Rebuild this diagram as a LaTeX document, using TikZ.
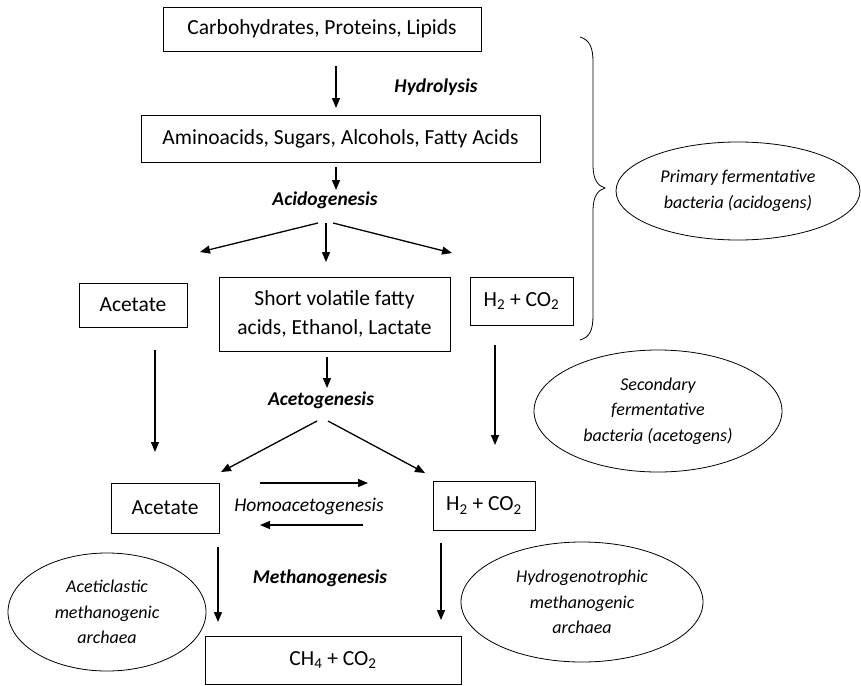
\documentclass[tikz,border=0pt]{standalone}
\usepackage{fontspec}
\setmainfont{Carlito}
\usetikzlibrary{arrows.meta,shapes.geometric}
\begin{document}
\begin{tikzpicture}[x=1pt,y=-1pt,
  box/.style={draw, line width=0.9pt, inner sep=0pt, font=\fontsize{21.5}{29}\selectfont, align=center},
  lab/.style={inner sep=0pt, font=\fontsize{19.5}{22}\selectfont\bfseries\itshape},
  ell/.style={draw, ellipse, line width=0.8pt, inner sep=0pt, font=\fontsize{18}{25.5}\selectfont\itshape, align=center},
  arr/.style={-{Triangle[length=10pt,width=8pt]}, line width=1.3pt}]
\useasboundingbox (0,0) rectangle (861,685);
% boxes
\node[box, minimum width=318pt, minimum height=44pt] (b1) at (322,29) {Carbohydrates, Proteins, Lipids};
\node[box, minimum width=399pt, minimum height=47pt] (b2) at (340.5,138.5) {Aminoacids, Sugars, Alcohols, Fatty Acids};
\node[box, minimum width=108pt, minimum height=44pt] (ac1) at (133,305) {Acetate};
\node[box, minimum width=231pt, minimum height=74pt] (svfa) at (334.5,314) {Short volatile fatty\\acids, Ethanol, Lactate};
\node[box, minimum width=103pt, minimum height=48pt] (h2a) at (521.5,301) {H\textsubscript{2} + CO\textsubscript{2}};
\node[box, minimum width=108pt, minimum height=50pt] (ac2) at (165,508) {Acetate};
\node[box, minimum width=102pt, minimum height=49pt] (h2b) at (484,505.5) {H\textsubscript{2} + CO\textsubscript{2}};
\node[box, minimum width=256pt, minimum height=48pt] (ch4) at (333,660) {CH\textsubscript{4} + CO\textsubscript{2}};
% ellipses
\node[ell, minimum width=244pt, minimum height=98pt] (prim) at (738,191) {Primary fermentative\\bacteria (acidogens)};
\node[ell, minimum width=248pt, minimum height=122pt] (sec) at (658,411) {Secondary\\fermentative\\bacteria (acetogens)};
\node[ell, minimum width=198pt, minimum height=118pt] (aceti) at (107,612) {Aceticlastic\\methanogenic\\archaea};
\node[ell, minimum width=242pt, minimum height=120pt] (hydro) at (582,602) {Hydrogenotrophic\\methanogenic\\archaea};
% labels
\node[lab] (hyd) at (436,87) {Hydrolysis};
\node[lab] (acid) at (325,200) {Acidogenesis};
\node[lab] (aceto) at (321,400) {Acetogenesis};
\node[inner sep=0pt, font=\fontsize{19.5}{22}\selectfont\itshape] (homo) at (309,506) {Homoacetogenesis};
\node[lab] (meth) at (320,578) {Methanogenesis};
% arrow end points
\coordinate (a1s) at (336,66);   \coordinate (a1e) at (336,108);
\coordinate (a2s) at (336,167);  \coordinate (a2e) at (336,190);
\coordinate (fl) at (318,223);   \coordinate (flE) at (200,252);
\coordinate (fm) at (326,223);   \coordinate (fmE) at (326,262);
\coordinate (fr) at (333,223);   \coordinate (frE) at (452,253);
\coordinate (d1s) at (155,350);  \coordinate (d1e) at (155,452);
\coordinate (d2s) at (327,357);  \coordinate (d2e) at (327,388);
\coordinate (gl) at (317,421);   \coordinate (glE) at (221,472);
\coordinate (gr) at (328,421);   \coordinate (grE) at (425,473);
\coordinate (d3s) at (495,345);  \coordinate (d3e) at (495,445);
\coordinate (hr1) at (260,483);  \coordinate (hr2) at (368,483);
\coordinate (hl1) at (363,525);  \coordinate (hl2) at (260,525);
\coordinate (d4s) at (218,547);  \coordinate (d4e) at (218,622);
\coordinate (d5s) at (441,543);  \coordinate (d5e) at (441,620);
% arrows
\draw[arr] (a1s) -- (a1e);
\draw[arr] (a2s) -- (a2e);
\draw[arr] (fl) -- (flE);
\draw[arr] (fm) -- (fmE);
\draw[arr] (fr) -- (frE);
\draw[arr] (d1s) -- (d1e);
\draw[arr] (d2s) -- (d2e);
\draw[arr] (gl) -- (glE);
\draw[arr] (gr) -- (grE);
\draw[arr] (d3s) -- (d3e);
\draw[arr] (hr1) -- (hr2);
\draw[arr] (hl1) -- (hl2);
\draw[arr] (d4s) -- (d4e);
\draw[arr] (d5s) -- (d5e);
% brace
\draw[line width=0.8pt] (580,37) .. controls (590,40) and (593,48) .. (593,62) -- (593,165)
  .. controls (593,180) and (598,186) .. (605,188)
  .. controls (598,190) and (593,196) .. (593,211) -- (593,315)
  .. controls (593,330) and (590,337) .. (580,340);
\end{tikzpicture}
\end{document}
